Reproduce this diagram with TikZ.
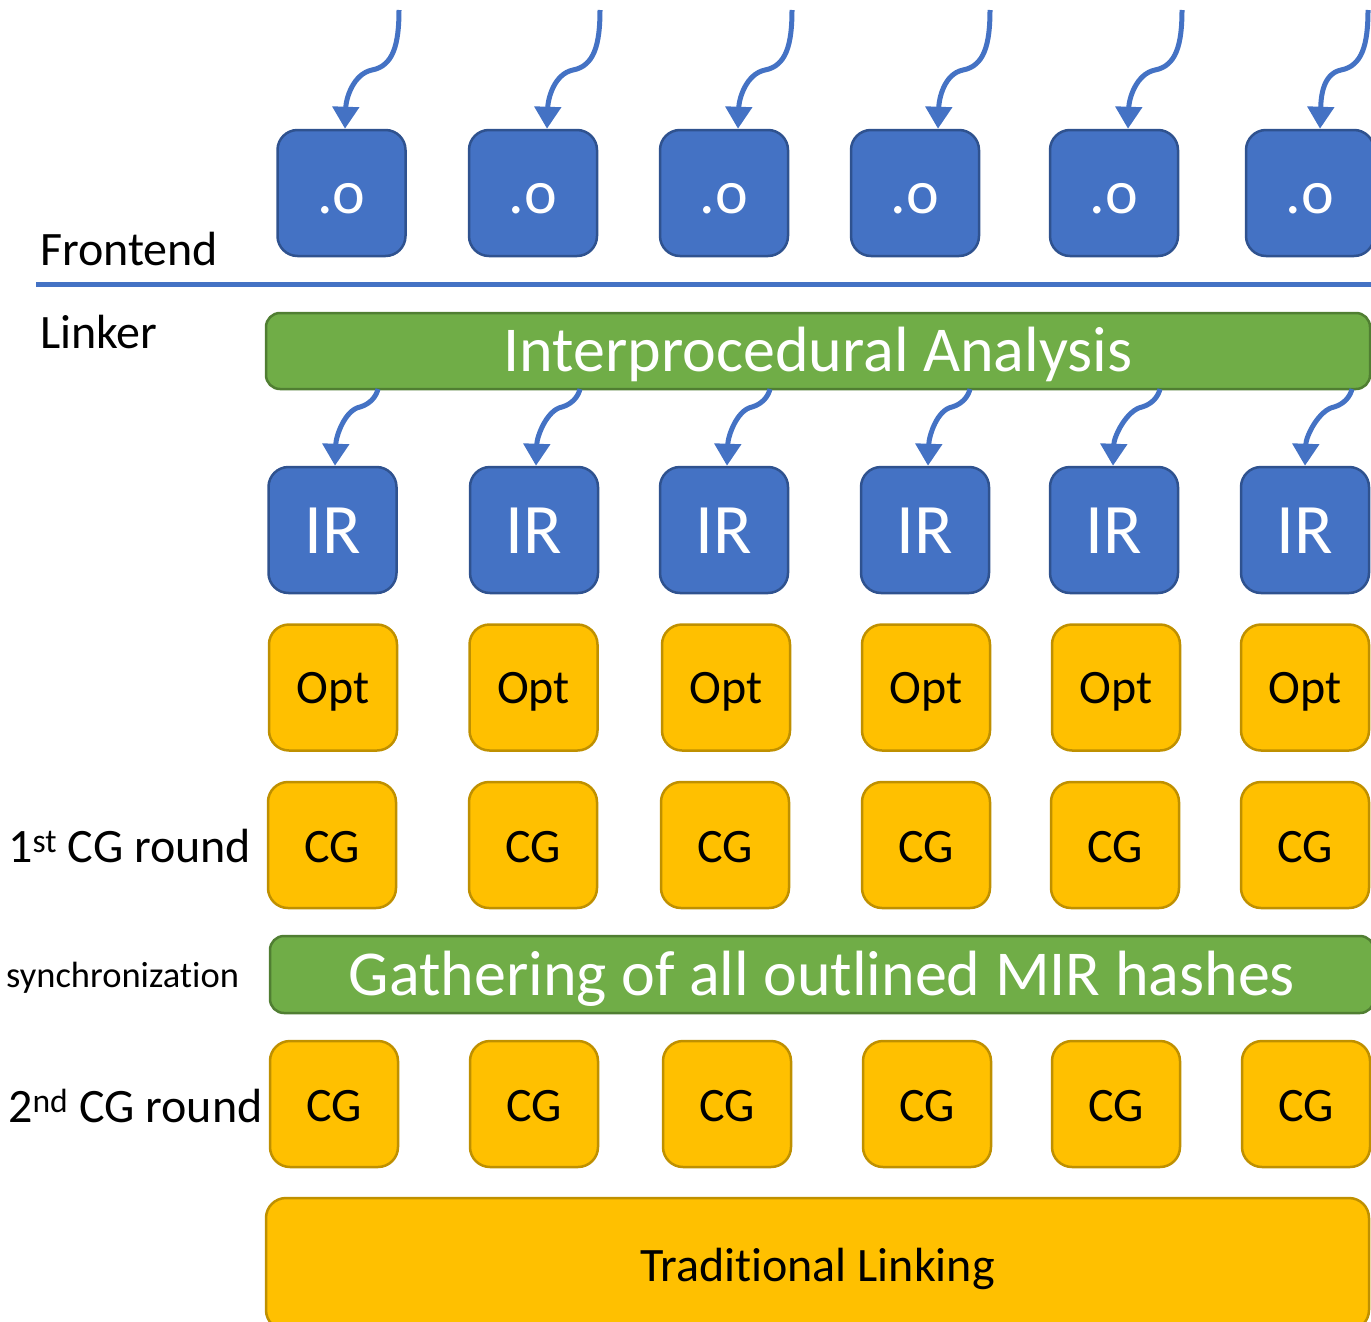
\documentclass[tikz,border=0pt]{standalone}
\usepackage{fontspec}
\setmainfont[Ligatures={NoCommon,NoContextual}]{Carlito}
\usetikzlibrary{arrows.meta}
\definecolor{bfill}{HTML}{4472C4}
\definecolor{bline}{HTML}{2F528F}
\definecolor{gfill}{HTML}{70AD47}
\definecolor{gline}{HTML}{507E32}
\definecolor{yfill}{HTML}{FFC000}
\definecolor{yline}{HTML}{BF9000}
\begin{document}
\begin{tikzpicture}[x=1pt,y=-1pt,
  box/.style={rounded corners=20pt, line width=2.5pt, minimum width=128pt, minimum height=126pt, inner sep=0pt, text depth=0pt},
  bluebox/.style={box, fill=bfill, draw=bline, text=white},
  yellowbox/.style={box, fill=yfill, draw=yline, text=black, font=\fontsize{48}{56}\selectfont},
  greenbar/.style={rounded corners=14pt, line width=2.5pt, fill=gfill, draw=gline, text=white, inner sep=0pt, minimum height=76pt, text depth=0pt, text height=41pt, font=\fontsize{64}{72}\selectfont},
  feed/.style={draw=bfill, line width=5pt, -{Triangle[length=22pt,width=26pt]}},
  lbl/.style={anchor=base west, inner sep=0pt, font=\fontsize{48}{56}\selectfont}]
\useasboundingbox (0,0) rectangle (1371,1322);
\clip (0,0) rectangle (1371,1322);

% labels
\node[lbl] (fe) at (40,265) {Frontend};
\node[lbl] (lk) at (40,348) {Linker};
\node[lbl] (r1) at (8,862) {1\textsuperscript{st} CG round};
\node[lbl, font=\fontsize{36.5}{44}\selectfont] (sy) at (6,987) {synchronization};
\node[lbl] (r2) at (8,1122) {2\textsuperscript{nd} CG round};

% separator
\draw[bfill, line width=5pt] (36,284) -- (1371,284);

% object files
\foreach \i/\x in {1/341.5,2/533,3/724,4/915,5/1114,6/1310}
  \node[bluebox, text height=40pt, font=\fontsize{62}{70}\selectfont] (o\i) at (\x,193) {.o};

% top arrows
\foreach \i/\sx/\dx in {1/399/3.5,2/600/14,3/792/14,4/990/23,5/1182/14,6/1368/10} {
  \coordinate (t\i) at (\sx,10);
  \draw[feed] (t\i) .. controls +(0,35) and +(21,-4) .. ++(-27,60)
     .. controls +(-19,4) and +(1,-30) .. ([xshift=\dx pt]o\i.north);
}

% interprocedural analysis
\node[greenbar, minimum width=1104pt] (ia) at (818,351) {Interprocedural Analysis};

% IR boxes
\foreach \i/\x in {1/332.5,2/534,3/724,4/925,5/1114,6/1305}
  \node[bluebox, text height=46pt, font=\fontsize{71}{78}\selectfont] (ir\i) at (\x,530) {IR};

\foreach \i/\sx/\dx in {1/378/2.5,2/580/2,3/770/3,4/970/3,5/1160/-1,6/1352/0} {
  \coordinate (s\i) at (\sx,389);
  \draw[feed] (s\i) .. controls +(-2,8) and +(10,-3) .. ++(-18,18)
     .. controls +(-15,3) and +(1,-30) .. ([xshift=\dx pt]ir\i.north);
}

% Opt
\foreach \i/\x in {1/333,2/533.5,3/726,4/926,5/1116,6/1305}
  \node[yellowbox, text height=31pt] (op\i) at (\x,687.5) {Opt};

% CG round 1
\foreach \i/\x in {1/332,2/533,3/725,4/926,5/1115,6/1305}
  \node[yellowbox, text height=34pt] (ca\i) at (\x,845) {CG};

% synchronization
\node[greenbar, minimum width=1104pt, minimum height=77pt, text height=42pt] (ga) at (822,974.5) {Gathering of all outlined MIR hashes};

% CG round 2
\foreach \i/\x in {1/334,2/534,3/727,4/927,5/1116,6/1306}
  \node[yellowbox, text height=34pt] (cb\i) at (\x,1104) {CG};

% traditional linking
\node[yellowbox, minimum width=1103pt, minimum height=132pt, text height=34pt] (tl) at (817.5,1264) {Traditional Linking};
\end{tikzpicture}
\end{document}
